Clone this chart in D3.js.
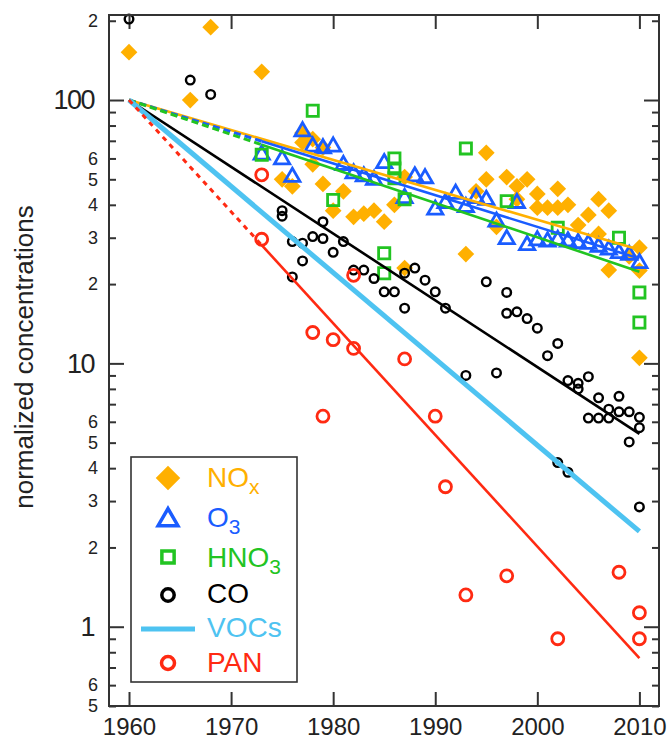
<!DOCTYPE html>
<html><head><meta charset="utf-8">
<script src="https://cdn.jsdelivr.net/npm/d3@7/dist/d3.min.js"></script>
<style>
body{margin:0;background:#fff}
svg{display:block;font-family:"Liberation Sans",Arial,Helvetica,sans-serif}
</style>
</head><body>
<svg id="chart" width="670" height="740"></svg>
<script>
// ---------------- data ----------------
const noxYears  = [1960,1966,1968,1973,1975,1976,1977,1977,1978,1978,1979,1979,1980,1981,1982,1983,1984,1985,1986,1987,1987,1993,1994,1995,1995,1996,1997,1998,1998,1999,2000,2000,2001,2002,2002,2003,2004,2005,2006,2006,2007,2007,2009,2010,2010,2010];
const noxValues = [152,100,189,128,50,47,69,75,57,71,66,48,38,45,36,37,38,34.5,40,51,23,26,45,63,50,33,51,47,42,50,44,39,39,46,39,40,33.5,36.6,42,31,38,22.6,25.5,27.5,22.5,10.5];

const o3Years  = [1973,1975,1976,1977,1978,1979,1980,1981,1982,1983,1984,1985,1987,1988,1989,1990,1991,1992,1993,1994,1995,1996,1997,1998,1999,2000,2001,2002,2003,2004,2005,2006,2007,2008,2009,2010];
const o3Values = [62,59.5,51,76,66.5,65.5,66.5,56.6,52.6,51.2,49.7,57.5,42.4,51.2,50.4,38.3,40.6,44,39.2,42.4,41.7,34.5,29.6,40.6,28.1,29.3,29,29.4,29,28.6,28.4,27.7,27,26.2,25.8,24];

const hno3Years  = [1973,1978,1980,1985,1985,1986,1986,1986,1987,1993,1997,2002,2008,2010,2010];
const hno3Values = [62,91,41.7,26.2,22,60,55,50.5,42,65.5,41.3,32.7,30,18.6,14.3];

const coYears  = [1960,1966,1968,1975,1975,1976,1976,1977,1977,1978,1979,1979,1980,1981,1982,1983,1984,1985,1986,1987,1987,1988,1989,1990,1991,1993,1995,1996,1997,1997,1998,1999,2000,2001,2002,2002,2003,2003,2004,2004,2005,2005,2006,2006,2007,2007,2008,2008,2009,2009,2010,2010,2010];
const coValues = [203,119,105,38,36.2,29,21.3,28.6,24.5,30.3,34.5,29.8,26.4,29,22.6,22.6,21,18.7,18.7,22,16.2,23,20.7,18.7,16.2,9,20.4,9.2,18.6,15.5,15.7,14.8,13.6,10.7,11.9,4.2,8.6,3.86,8.4,8,8.9,6.2,7.4,6.2,6.7,6.2,7.5,6.55,6.55,5.03,6.24,5.7,2.85];

const panYears  = [1973,1973,1978,1979,1980,1982,1982,1987,1990,1991,1993,1997,2002,2008,2010,2010];
const panValues = [52,29.6,13.1,6.3,12.3,11.4,21.6,10.4,6.3,3.4,1.32,1.56,0.9,1.61,1.13,0.9];

// trend lines (exponential fits, straight in log space)
const trendNames       = ["NOx","O3","HNO3","CO","VOCs","PAN"];
const trendStartYear   = 1960;
const trendEndYear     = 2010;
const trendStartValues = [100,100,100,100,100,100];
const trendEndValues   = [27,25,22.3,5.4,2.3,0.76];
const trendDashedUntil = [null,1973,1973,null,null,1973];

// axis ticks / labels
const xTicks = [1960,1970,1980,1990,2000,2010];
const yMajorTicks = [1,10,100];
const yMinorTicks  = [0.5,0.6,0.7,0.8,0.9,2,3,4,5,6,7,8,9,20,30,40,50,60,70,80,90,200];
const yMinorLabels = ["5","6","","","","2","3","4","5","6","","","","2","3","4","5","6","","","","2"];
const yTitle = "normalized concentrations";

// legend
const legendLabels = [["NO","x"],["O","3"],["HNO","3"],["CO",""],["VOCs",""],["PAN",""]];

// ---------------- style ----------------
const C = {nox:"#FFB000", o3:"#1A5CFF", hno3:"#22C422", co:"#000000", voc:"#4EC3F1", pan:"#FF2A12"};
const trendColors = [C.nox,C.o3,C.hno3,C.co,C.voc,C.pan];
const trendWidths = [2.6,2.6,2.6,2.6,5,2.6];
const axisColor = "#333";
const textColor = "#222";

const L=109, R=659, T=15, B=706;
const svg = d3.select("#chart");
const x = d3.scaleLinear().domain([1958.04, 2011.92]).range([L,R]);
const y = d3.scaleLog().domain([0.5, 210.3]).range([B,T]);

// ---------------- axes ----------------
function styleAxis(g){
  g.select(".domain").remove();
  g.selectAll(".tick line").attr("stroke",axisColor).attr("stroke-width",2);
  g.selectAll(".tick text").attr("fill",textColor).attr("font-family",null);
}
svg.append("g").attr("transform",`translate(0,${B})`)
  .call(d3.axisBottom(x).tickValues(xTicks).tickSize(-14).tickPadding(12).tickFormat(d3.format("d")))
  .call(styleAxis).call(g=>g.selectAll("text").attr("font-size",24));
svg.append("g").attr("transform",`translate(0,${T})`)
  .call(d3.axisTop(x).tickValues(xTicks).tickSize(-14).tickFormat(""))
  .call(styleAxis);

svg.append("g").attr("transform",`translate(${L},0)`)
  .call(d3.axisLeft(y).tickValues(yMajorTicks).tickSize(-15).tickPadding(15).tickFormat(d=>String(d)))
  .call(styleAxis).call(g=>g.selectAll("text").attr("font-size",27).attr("letter-spacing","-1.5px"));
svg.append("g").attr("transform",`translate(${L},0)`)
  .call(d3.axisLeft(y).tickValues(yMinorTicks).tickSize(-7).tickPadding(11).tickFormat((d,i)=>yMinorLabels[i]))
  .call(styleAxis).call(g=>g.selectAll("text").attr("font-size",18));
svg.append("g").attr("transform",`translate(${R},0)`)
  .call(d3.axisRight(y).tickValues(yMajorTicks).tickSize(-15).tickFormat(""))
  .call(styleAxis);
svg.append("g").attr("transform",`translate(${R},0)`)
  .call(d3.axisRight(y).tickValues(yMinorTicks).tickSize(-7).tickFormat(""))
  .call(styleAxis);

svg.append("text").attr("transform",`translate(33,357) rotate(-90)`)
  .attr("text-anchor","middle").attr("font-size",26).attr("fill",textColor).text(yTitle);

// ---------------- markers ----------------
const pts = (ys,vs)=>ys.map((yr,i)=>({year:yr,value:vs[i]}));
const diamond = d3.symbol().type(d3.symbolSquare).size(140);
const tri = d3.symbol().type(d3.symbolTriangle).size(100);
const sq = d3.symbol().type(d3.symbolSquare).size(125);

const gm = svg.append("g");
gm.selectAll(".nox").data(pts(noxYears,noxValues)).join("path")
  .attr("d",diamond).attr("transform",d=>`translate(${x(d.year)},${y(d.value)}) rotate(45)`)
  .attr("fill",C.nox);
gm.selectAll(".o3").data(pts(o3Years,o3Values)).join("path")
  .attr("d",tri).attr("transform",d=>`translate(${x(d.year)},${y(d.value)})`)
  .attr("fill","none").attr("stroke",C.o3).attr("stroke-width",2.8);
gm.selectAll(".hno3").data(pts(hno3Years,hno3Values)).join("path")
  .attr("d",sq).attr("transform",d=>`translate(${x(d.year)},${y(d.value)})`)
  .attr("fill","none").attr("stroke",C.hno3).attr("stroke-width",2.8);
gm.selectAll(".co").data(pts(coYears,coValues)).join("circle")
  .attr("cx",d=>x(d.year)).attr("cy",d=>y(d.value)).attr("r",4.3)
  .attr("fill","none").attr("stroke",C.co).attr("stroke-width",2.4);
gm.selectAll(".pan").data(pts(panYears,panValues)).join("circle")
  .attr("cx",d=>x(d.year)).attr("cy",d=>y(d.value)).attr("r",6)
  .attr("fill","none").attr("stroke",C.pan).attr("stroke-width",2.8);

// ---------------- trend lines ----------------
const line = d3.line().x(d=>x(d.year)).y(d=>y(d.value));
const gl = svg.append("g");
trendNames.forEach((n,i)=>{
  const v0=trendStartValues[i], v1=trendEndValues[i];
  const at = yr => Math.exp(Math.log(v0)+(Math.log(v1)-Math.log(v0))*(yr-trendStartYear)/(trendEndYear-trendStartYear));
  const brk = trendDashedUntil[i];
  if(brk!==null){
    gl.append("path").attr("d",line([{year:trendStartYear,value:v0},{year:brk,value:at(brk)}]))
      .attr("fill","none").attr("stroke",trendColors[i]).attr("stroke-width",3)
      .attr("stroke-dasharray", n==="PAN" ? "5,5" : "7,4");
    gl.append("path").attr("d",line([{year:brk,value:at(brk)},{year:trendEndYear,value:v1}]))
      .attr("fill","none").attr("stroke",trendColors[i]).attr("stroke-width",trendWidths[i]);
  } else {
    gl.append("path").attr("d",line([{year:trendStartYear,value:v0},{year:trendEndYear,value:v1}]))
      .attr("fill","none").attr("stroke",trendColors[i]).attr("stroke-width",trendWidths[i]);
  }
});

// ---------------- frame ----------------
svg.append("rect").attr("x",L).attr("y",T).attr("width",R-L).attr("height",B-T)
  .attr("fill","none").attr("stroke",axisColor).attr("stroke-width",2);

// ---------------- legend ----------------
const lg = svg.append("g");
lg.append("rect").attr("x",131).attr("y",457).attr("width",166).attr("height",225)
  .attr("fill","#fff").attr("stroke",axisColor).attr("stroke-width",1.6);
const rowBase = [487,527,567,603,637,672];
const sx = 168;
lg.append("path").attr("d",d3.symbol().type(d3.symbolSquare).size(300)())
  .attr("transform",`translate(${sx},${rowBase[0]-9}) rotate(45)`).attr("fill",C.nox);
lg.append("path").attr("d",d3.symbol().type(d3.symbolTriangle).size(170)())
  .attr("transform",`translate(${sx},${rowBase[1]-7})`).attr("fill","none").attr("stroke",C.o3).attr("stroke-width",3.5);
lg.append("path").attr("d",d3.symbol().type(d3.symbolSquare).size(150)())
  .attr("transform",`translate(${sx},${rowBase[2]-10})`).attr("fill","none").attr("stroke",C.hno3).attr("stroke-width",3.5);
lg.append("circle").attr("cx",sx).attr("cy",rowBase[3]-8).attr("r",6.2)
  .attr("fill","none").attr("stroke",C.co).attr("stroke-width",3.5);
lg.append("line").attr("x1",141).attr("x2",195).attr("y1",rowBase[4]-8).attr("y2",rowBase[4]-8)
  .attr("stroke",C.voc).attr("stroke-width",5);
lg.append("circle").attr("cx",sx).attr("cy",rowBase[5]-9).attr("r",6.5)
  .attr("fill","none").attr("stroke",C.pan).attr("stroke-width",3.5);
const legendColors=[C.nox,C.o3,C.hno3,C.co,C.voc,C.pan];
legendLabels.forEach((lab,i)=>{
  const t = lg.append("text").attr("x",207).attr("y",rowBase[i]).attr("font-size",28).attr("fill",legendColors[i]);
  t.append("tspan").text(lab[0]);
  if(lab[1]) t.append("tspan").attr("font-size",21).attr("dy",7).text(lab[1]);
});
</script>
</body></html>
